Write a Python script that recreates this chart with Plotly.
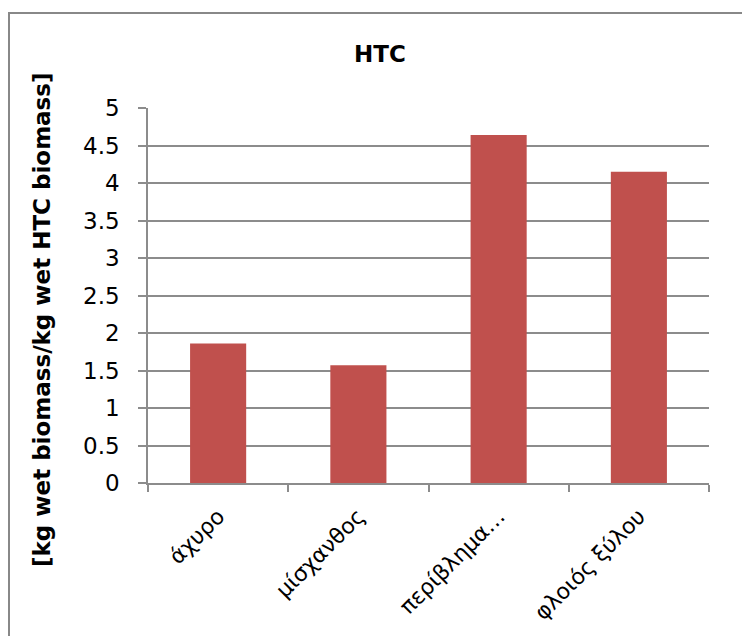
import plotly.graph_objects as go

# HTC biomass ratio per feedstock
categories = ["άχυρο", "μίσχανθος", "περίβλημα…", "φλοιός ξύλου"]
values = [1.86, 1.57, 4.64, 4.15]
y_ticks = [0, 0.5, 1, 1.5, 2, 2.5, 3, 3.5, 4, 4.5, 5]
y_tick_text = ["0", "0.5", "1", "1.5", "2", "2.5", "3", "3.5", "4", "4.5", "5"]
y_title = "[kg wet biomass/kg wet HTC biomass]"

FONT = "DejaVu Sans"
GRID = "#8c8c8c"
W, H = 742, 636
L, R, T, B = 148, 33, 108, 153

fig = go.Figure(
    go.Bar(
        x=categories,
        y=values,
        marker=dict(color="#c0504d", line=dict(width=0)),
    )
)

fig.update_layout(
    width=W,
    height=H,
    margin=dict(l=L, r=R, t=T, b=B),
    paper_bgcolor="white",
    plot_bgcolor="white",
    bargap=0.6,
    showlegend=False,
    font=dict(family=FONT, color="black"),
    title=dict(
        text="<b>HTC</b>",
        x=380 / W,
        xanchor="center",
        y=1 - 54 / H,
        yanchor="middle",
        font=dict(family=FONT, size=23, color="black"),
    ),
)

fig.update_yaxes(
    range=[0, 5],
    tickvals=y_ticks,
    ticktext=y_tick_text,
    showgrid=True,
    gridcolor=GRID,
    gridwidth=1.5,
    showline=True,
    linecolor=GRID,
    linewidth=1.5,
    ticks="outside",
    ticklen=8,
    tickcolor=GRID,
    tickwidth=1.5,
    ticklabelstandoff=14,
    tickfont=dict(family=FONT, size=23, color="black"),
    zeroline=False,
)

fig.update_xaxes(
    showline=True,
    linecolor=GRID,
    linewidth=1.5,
    ticks="outside",
    tickson="boundaries",
    ticklen=7,
    tickcolor=GRID,
    tickwidth=1.5,
    tickangle=-45,
    ticklabelstandoff=10,
    tickfont=dict(family=FONT, size=22, color="black"),
)

# vertical axis title, placed in pixel terms relative to the plot area
plot_w, plot_h = W - L - R, H - T - B
fig.add_annotation(
    text="<b>" + y_title + "</b>",
    textangle=-90,
    xref="paper",
    yref="paper",
    x=(42 - L) / plot_w,
    y=(H - B - 320) / plot_h,
    xanchor="center",
    yanchor="middle",
    showarrow=False,
    font=dict(family=FONT, size=23, color="black"),
)

# outer chart frame
fig.add_shape(
    type="rect",
    xref="paper",
    yref="paper",
    x0=(9 - L) / plot_w,
    x1=(760 - L) / plot_w,
    y0=(H - B - 660) / plot_h,
    y1=(H - B - 13) / plot_h,
    line=dict(color="#888888", width=2),
    fillcolor="rgba(0,0,0,0)",
    layer="below",
)

fig.write_html("out.html")
